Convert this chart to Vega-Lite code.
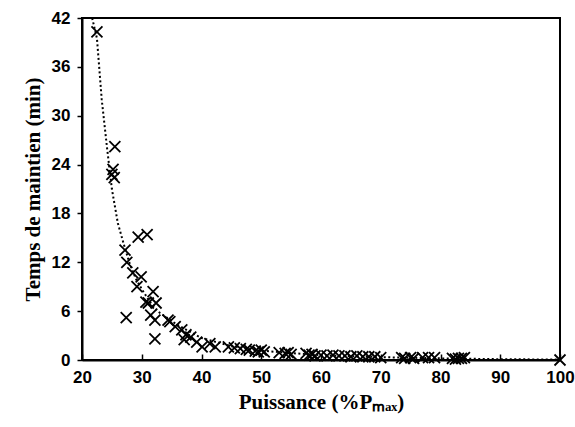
{
  "$schema": "https://vega.github.io/schema/vega-lite/v6.json",
  "width": 478,
  "height": 342,
  "autosize": "none",
  "padding": {"left": 82, "top": 18, "right": 15, "bottom": 67},
  "background": "white",
  "config": {
    "view": {"stroke": "black", "strokeWidth": 2},
    "axis": {
      "domainColor": "black", "domainWidth": 2, "tickColor": "black", "tickWidth": 1.5, "tickSize": 5,
      "labelFont": "Liberation Sans", "labelFontWeight": "bold", "labelFontSize": 17, "labelColor": "black",
      "labelFlush": false, "labelOverlap": false,
      "titleFont": "Liberation Serif", "titleFontWeight": "bold", "titleFontSize": 21, "titleColor": "black",
      "grid": false
    }
  },
  "datasets": {
    "curve": [
      {"p": 21.7, "t": 42}, {"p": 22.5, "t": 39.5}, {"p": 23.3, "t": 32}, {"p": 24.2, "t": 26},
      {"p": 25, "t": 21}, {"p": 26, "t": 16.8}, {"p": 27, "t": 14.2}, {"p": 28, "t": 11.8},
      {"p": 29, "t": 10.0}, {"p": 30, "t": 8.7}, {"p": 31.5, "t": 7.0}, {"p": 33, "t": 5.8},
      {"p": 36, "t": 4.3}, {"p": 40, "t": 2.7}, {"p": 45, "t": 1.7}, {"p": 50, "t": 1.15},
      {"p": 55, "t": 0.85}, {"p": 60, "t": 0.6}, {"p": 70, "t": 0.35}, {"p": 80, "t": 0.2},
      {"p": 90, "t": 0.1}, {"p": 100, "t": 0.05}
    ],
    "obs": [
      {"p": 22.5, "t": 40.3}, {"p": 25.5, "t": 26.2}, {"p": 25.2, "t": 23.4}, {"p": 25.0, "t": 22.8},
      {"p": 25.4, "t": 22.4}, {"p": 29.4, "t": 15.1}, {"p": 30.9, "t": 15.4}, {"p": 27.2, "t": 13.5},
      {"p": 27.5, "t": 12.0}, {"p": 28.5, "t": 10.7}, {"p": 29.9, "t": 10.2}, {"p": 29.2, "t": 9.0},
      {"p": 27.4, "t": 5.2}, {"p": 30.7, "t": 7.1}, {"p": 31.1, "t": 7.0}, {"p": 31.9, "t": 8.4},
      {"p": 32.4, "t": 7.0}, {"p": 31.5, "t": 5.5}, {"p": 32.2, "t": 4.9}, {"p": 32.2, "t": 2.6},
      {"p": 34.4, "t": 4.9}, {"p": 34.7, "t": 4.7}, {"p": 35.6, "t": 4.1}, {"p": 36.7, "t": 3.7},
      {"p": 37.4, "t": 3.1}, {"p": 37.1, "t": 2.5}, {"p": 38.2, "t": 2.8}, {"p": 39.2, "t": 2.2},
      {"p": 40.1, "t": 1.6}, {"p": 41.4, "t": 2.0}, {"p": 42.3, "t": 1.6},
      {"p": 44.5, "t": 1.6}, {"p": 45.5, "t": 1.5}, {"p": 46.5, "t": 1.4}, {"p": 47.5, "t": 1.3},
      {"p": 48, "t": 1.2}, {"p": 49, "t": 1.1}, {"p": 49.5, "t": 1.0}, {"p": 50, "t": 1.2},
      {"p": 50.5, "t": 1.0}, {"p": 53, "t": 0.9}, {"p": 54, "t": 0.8}, {"p": 54.5, "t": 0.9},
      {"p": 55, "t": 0.7}, {"p": 57.5, "t": 0.8}, {"p": 58, "t": 0.6}, {"p": 58.5, "t": 0.7},
      {"p": 59, "t": 0.5}, {"p": 60, "t": 0.6}, {"p": 61, "t": 0.5}, {"p": 62, "t": 0.6},
      {"p": 63, "t": 0.5}, {"p": 64, "t": 0.5}, {"p": 65, "t": 0.4}, {"p": 66, "t": 0.5},
      {"p": 67, "t": 0.4}, {"p": 68, "t": 0.4}, {"p": 69, "t": 0.4}, {"p": 70, "t": 0.3},
      {"p": 73.5, "t": 0.3}, {"p": 74, "t": 0.2}, {"p": 75, "t": 0.3}, {"p": 75.5, "t": 0.2},
      {"p": 77, "t": 0.3}, {"p": 78, "t": 0.3}, {"p": 79, "t": 0.3}, {"p": 82, "t": 0.2},
      {"p": 82.5, "t": 0.1}, {"p": 83, "t": 0.2}, {"p": 83.5, "t": 0.2}, {"p": 84, "t": 0.3},
      {"p": 100, "t": 0}
    ]
  },
  "layer": [
    {
      "data": {"name": "curve"},
      "mark": {"type": "line", "color": "black", "strokeWidth": 2, "strokeDash": [2, 2.5], "clip": true},
      "encoding": {
        "x": {"field": "p", "type": "quantitative"},
        "y": {"field": "t", "type": "quantitative"}
      }
    },
    {
      "data": {"name": "obs"},
      "mark": {"type": "point", "shape": "M-1,-1L1,1M-1,1L1,-1", "filled": false, "color": "black", "strokeWidth": 1.8, "size": 121, "opacity": 1},
      "encoding": {
        "x": {"field": "p", "type": "quantitative", "scale": {"domain": [20, 100], "nice": false},
              "axis": {"values": [20, 30, 40, 50, 60, 70, 80, 90, 100], "tickSize": -6, "title": "Puissance (%Pₘₐₓ)", "titlePadding": 6, "labelPadding": 15}},
        "y": {"field": "t", "type": "quantitative", "scale": {"domain": [0, 42], "nice": false},
              "axis": {"values": [0, 6, 12, 18, 24, 30, 36, 42], "title": "Temps de maintien (min)", "titlePadding": 8, "labelPadding": 7}}
      }
    }
  ]
}
